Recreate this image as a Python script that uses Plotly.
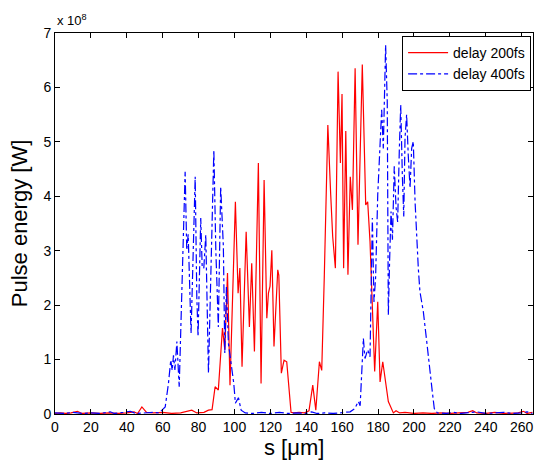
import plotly.graph_objects as go

# delay 200fs (red, solid) - s in um, power in units of 1e8 W
s_200 = [0, 3, 6, 9, 12.5, 15, 20, 25, 30, 35, 40, 44, 46, 48.4, 51, 55, 60, 65, 70, 76.2, 79, 83,
         85.5, 87.5, 89.2, 91, 93.3, 94.6, 96.1, 97.5, 100.5, 102, 103, 104.2, 106.5, 108.3, 109.6,
         111.1, 113.3, 114.8, 116.5, 118, 118.9, 119.8, 120.8, 122, 124.1, 124.7, 126.1, 127.6, 129.1,
         130.3, 131.5, 133, 136, 139, 141.5, 143.6, 145.3, 147.3, 148.6, 150, 152, 153.6, 154.7, 156.2,
         157.7, 159, 159.9, 160.8, 162, 163.2, 164.5, 165.7, 167.2, 168.8, 171.2, 173.1, 174.2, 175.5,
         178.1, 179.8, 181.1, 182.6, 185.7, 188.5, 190, 192, 195, 200, 205, 210, 215, 220, 225, 230,
         232.7, 235, 240, 245, 250, 255, 258, 261, 263, 266]
p_200 = [0.01, 0.02, 0.01, 0.02, 0.05, 0.01, 0.02, 0.01, 0.02, 0.01, 0.02, 0.04, 0.01, 0.13, 0.03, 0.02,
         0.03, 0.01, 0.02, 0.07, 0.02, 0.03, 0.07, 0.08, 0.5, 0.44, 1.58, 1.18, 2.59, 0.53, 3.9, 2.22,
         2.68, 0.87, 3.35, 1.6, 2.77, 1.15, 4.61, 0.56, 4.3, 1.76, 2.22, 2.35, 3.01, 1.24, 2.65, 2.55,
         0.75, 0.99, 0.96, 0.45, 0.03, 0.02, 0.03, 0.02, 0.06, 0.53, 0.07, 0.96, 0.8, 2.5, 5.31, 4.03,
         3.26, 2.68, 6.29, 4.61, 5.88, 2.68, 5.2, 2.56, 4.36, 3.75, 6.35, 3.11, 6.42, 3.84, 3.9, 3.17,
         0.78, 2.06, 0.59, 0.96, 0.23, 0.02, 0.06, 0.02, 0.03, 0.01, 0.02, 0.01, 0.02, 0.01, 0.02, 0.03,
         0.06, 0.02, 0.01, 0.03, 0.01, 0.02, 0.02, 0.05, 0.01, 0.03]

# delay 400fs (blue, dash-dot)
s_400 = [0, 5, 10, 15, 20, 25, 30.8, 33, 38, 42, 45, 50, 55, 58, 61.4, 63.2, 64.5, 65.3, 66, 66.8, 67.9,
         69.2, 70.5, 71.3, 72.5, 73.4, 74.2, 75.8, 76.8, 78.1, 79, 79.7, 81.2, 82, 82.9, 84, 85.5, 86.5,
         87.3, 88.5, 89.6, 91, 92.3, 93.8, 94.6, 95.5, 96.6, 98.5, 99.6, 100.5, 101.3, 102.2, 103.7, 106,
         110, 115, 120, 125, 130, 135, 140, 143, 146, 150, 155, 160, 164.4, 167, 169, 170, 171, 171.8,
         172.7, 174.2, 175.5, 176.8, 177.7, 178.6, 179.8, 181.1, 182, 182.9, 184.2, 185.1, 185.7, 186.4,
         187.2, 188, 189, 190, 190.9, 191.8, 192.6, 193.5, 194.3, 195, 195.9, 196.8, 197.8, 198.7, 199.6,
         200.6, 201.5, 202.4, 203.3, 205.2, 207.1, 208.9, 210.2, 211.3, 213, 218, 222, 226, 230, 235,
         240, 245, 250, 255, 260, 263, 266]
p_400 = [0.02, 0.01, 0.03, 0.01, 0.02, 0.01, 0.04, 0.01, 0.03, 0.05, 0.01, 0.02, 0.03, 0.02, 0.13, 0.56,
         0.99, 0.8, 1.08, 0.81, 1.33, 0.5, 2.0, 3.2, 4.45, 3.01, 3.3, 1.48, 2.8, 4.36, 2.16, 1.42, 3.6,
         2.7, 2.68, 3.29, 0.75, 2.0, 3.32, 4.85, 3.01, 1.6, 4.18, 3.08, 1.12, 2.34, 1.3, 0.81, 0.56, 0.2,
         0.26, 0.3, 0.07, 0.02, 0.01, 0.03, 0.01, 0.03, 0.01, 0.02, 0.01, 0.04, 0.01, 0.02, 0.01, 0.02,
         0.04, 0.1, 0.23, 0.15, 0.8, 1.39, 1.02, 1.18, 1.05, 3.6, 2.06, 2.5, 4.03, 5.13, 5.59, 4.88, 6.78,
         5.74, 1.82, 2.8, 3.72, 3.2, 4.55, 3.8, 3.53, 4.82, 5.68, 4.39, 3.63, 5.07, 5.5, 4.76, 4.15, 4.88,
         5.01, 3.9, 3.11, 2.68, 2.25, 1.88, 1.33, 0.72, 0.41, 0.1, 0.02, 0.01, 0.03, 0.01, 0.02, 0.04,
         0.01, 0.02, 0.03, 0.01, 0.02, 0.04, 0.01]

x_ticks = list(range(0, 261, 20))
y_ticks = list(range(0, 8))

FONT = "Liberation Sans, Arial, Helvetica, sans-serif"

fig = go.Figure()
fig.add_trace(go.Scatter(x=s_200, y=p_200, mode="lines", name="delay 200fs",
                         line=dict(color="#ff0000", width=1.2)))
fig.add_trace(go.Scatter(x=s_400, y=p_400, mode="lines", name="delay 400fs",
                         line=dict(color="#0000ff", width=1.2, dash="dashdot")))

axis_common = dict(showline=True, linecolor="black", linewidth=1, mirror="allticks",
                   ticks="inside", ticklen=5, tickcolor="black", showgrid=False, zeroline=False,
                   tickfont=dict(family=FONT, size=14, color="black"))

fig.update_xaxes(range=[0, 266.3], tickvals=x_ticks, ticktext=[str(v) for v in x_ticks],
                 **axis_common)
fig.update_yaxes(range=[0, 7], tickvals=y_ticks, ticktext=[str(v) for v in y_ticks],
                 title=dict(text="Pulse energy [W]", font=dict(family=FONT, size=22, color="black"), standoff=9),
                 **axis_common)

# x-axis title as annotation for precise placement
fig.add_annotation(text="s [μm]", xref="paper", yref="paper", x=0.5, y=0,
                   xanchor="center", yanchor="top", yshift=-20, borderpad=0, showarrow=False,
                   font=dict(family=FONT, size=22, color="black"))

fig.add_annotation(text="x 10<sup>8</sup>", xref="paper", yref="paper", x=0, y=1,
                   xanchor="left", yanchor="bottom", yshift=3, showarrow=False,
                   font=dict(family=FONT, size=13, color="black"))

fig.update_layout(
    width=535, height=462,
    margin=dict(l=55, r=2, t=33, b=48),
    paper_bgcolor="white", plot_bgcolor="white",
    font=dict(family=FONT, color="black"),
    legend=dict(x=0.996, y=0.992, xanchor="right", yanchor="top",
                bgcolor="white", bordercolor="black", borderwidth=1,
                font=dict(family=FONT, size=14, color="black"),
                tracegroupgap=0, itemwidth=40),
    showlegend=True,
)

fig.write_html("out.html", config={"displayModeBar": False},
               post_script="document.body.style.margin='0px';document.body.style.overflow='hidden';")
